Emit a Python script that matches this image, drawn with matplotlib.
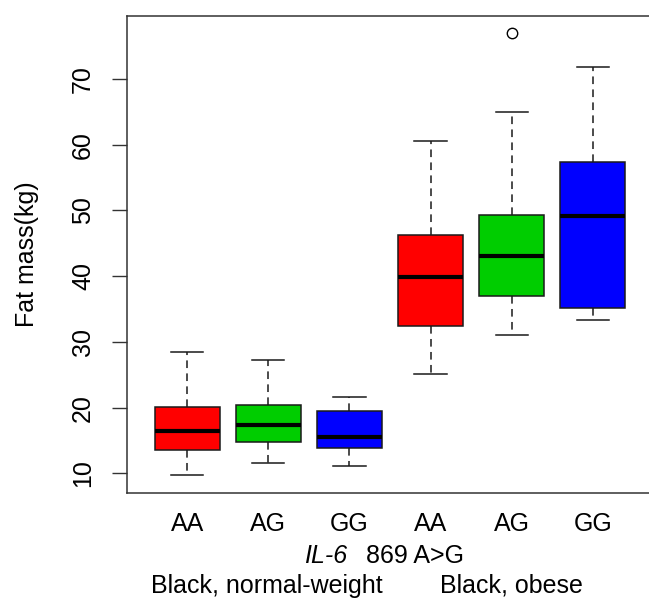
import matplotlib.pyplot as plt

plt.rcParams['font.family'] = ['Liberation Sans', 'DejaVu Sans']

# genotype groups (normal-weight, then obese)
genotypes = ['AA', 'AG', 'GG', 'AA', 'AG', 'GG']
colors = ['#ff0000', '#00cd00', '#0000ff', '#ff0000', '#00cd00', '#0000ff']

# box statistics (kg)
whis_lo = [9.7, 11.6, 11.1, 25.1, 31.1, 33.4]
q1 = [13.6, 14.7, 13.9, 32.4, 37.0, 35.1]
medians = [16.4, 17.4, 15.5, 39.9, 43.0, 49.1]
q3 = [20.1, 20.4, 19.5, 46.3, 49.3, 57.4]
whis_hi = [28.4, 27.2, 21.6, 60.6, 65.0, 71.8]
outliers = [[], [], [], [], [77.0], []]

group_labels = ['Black, normal-weight', 'Black, obese']
group_pos = [1.98, 5.0]

FS = 18

stats = []
for i in range(len(genotypes)):
    stats.append(dict(med=medians[i], q1=q1[i], q3=q3[i],
                      whislo=whis_lo[i], whishi=whis_hi[i],
                      fliers=outliers[i], label=genotypes[i]))

fig = plt.figure(figsize=(6.49, 5.99), dpi=100)
ax = fig.add_axes([0.1957, 0.177, 0.8105, 0.7968])

edge = '#1a1a1a'
bp = ax.bxp(stats, positions=range(1, 7), widths=0.8, capwidths=0.4,
            patch_artist=True,
            boxprops=dict(edgecolor=edge, linewidth=1.1),
            medianprops=dict(color='black', linewidth=3.0, solid_capstyle='butt'),
            whiskerprops=dict(color=edge, linewidth=1.1, linestyle=(0, (5, 3.5))),
            capprops=dict(color=edge, linewidth=1.1),
            flierprops=dict(marker='o', markerfacecolor='none',
                            markeredgecolor='black', markersize=7.5,
                            markeredgewidth=1.0))
for patch, c in zip(bp['boxes'], colors):
    patch.set_facecolor(c)

ax.set_xlim(0.26, 6.74)
ax.set_ylim(7.0, 79.65)
ax.set_yticks([10, 20, 30, 40, 50, 60, 70])
ax.set_yticklabels(['10', '20', '30', '40', '50', '60', '70'],
                   rotation=90, va='center', fontsize=FS)
ax.tick_params(axis='y', length=11, width=1.0, color='#333333', pad=12)
ax.tick_params(axis='x', length=0, pad=14, labelsize=FS)
ax.set_xticks(range(1, 7))
ax.set_xticklabels(genotypes)

for s in ax.spines.values():
    s.set_color('#333333')
    s.set_linewidth(1.1)

ax.set_ylabel('Fat mass(kg)', fontsize=FS, labelpad=23)

# axis title (gene name in italics) and group labels below the genotype ticks
xt = ax.get_xaxis_transform()
y_title = -(563 - 493) / (493 - 15.7)
ax.text(2.975, y_title, 'IL-6', transform=xt, ha='right', va='baseline',
        fontsize=FS, style='italic')
ax.text(3.20, y_title, '869 A>G', transform=xt, ha='left', va='baseline',
        fontsize=FS)

for label, xp in zip(group_labels, group_pos):
    ax.text(xp, -(593 - 493) / (493 - 15.7), label, transform=xt,
            ha='center', va='baseline', fontsize=FS)

fig.savefig('out.png', dpi=100)
